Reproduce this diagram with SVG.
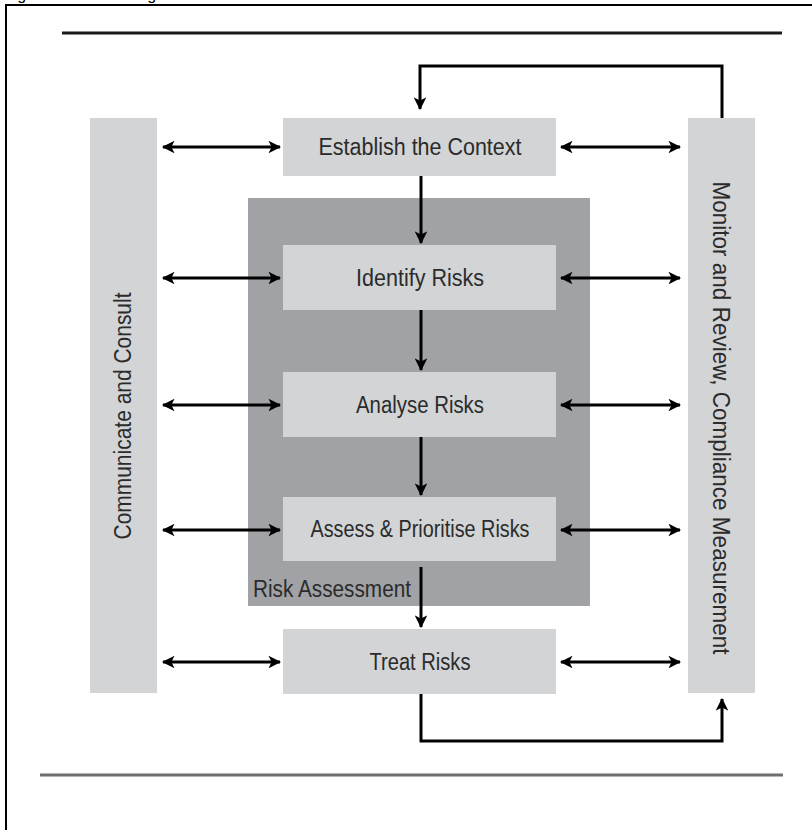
<svg xmlns="http://www.w3.org/2000/svg" width="812" height="830" viewBox="0 0 812 830">
<defs>
<style>
.box{fill:#d2d4d6}
.lbl{font-family:"Liberation Sans",Arial,sans-serif;font-size:23px;fill:#2b2b2b;text-anchor:middle;dominant-baseline:central}
.c{stroke:#000;stroke-width:3;fill:none}
</style>
<marker id="ah" viewBox="0 0 12 12" refX="11" refY="6" markerWidth="4.2" markerHeight="4.2" orient="auto-start-reverse" markerUnits="strokeWidth">
<path d="M0,0 L12,6 L0,12 L3,6 Z" fill="#000"/>
</marker>
</defs>
<rect width="812" height="830" fill="#fff"/>
<text x="4" y="0" style="font-family:'Liberation Sans',Arial,sans-serif;font-size:16px;fill:#000">Figure 1. Risk Management Process Framework</text>
<path d="M6,830 V5 H812" stroke="#000" stroke-width="2" fill="none"/>
<line x1="62" y1="33" x2="782" y2="33" stroke="#1a1a1a" stroke-width="3"/>
<line x1="40" y1="775" x2="783" y2="775" stroke="#6e6e6e" stroke-width="3"/>

<g id="risk-assessment">
<rect x="248" y="198" width="342" height="408" fill="#a0a2a5"/>
<text class="lbl" x="332" y="589" textLength="158" lengthAdjust="spacingAndGlyphs">Risk Assessment</text>
</g>
<g id="communicate">
<rect class="box" x="90" y="118" width="67" height="575"/>
<text class="lbl" transform="translate(123,416) rotate(-90)" textLength="247" lengthAdjust="spacingAndGlyphs">Communicate and Consult</text>
</g>
<g id="monitor">
<rect class="box" x="688" y="118" width="67" height="575"/>
<text class="lbl" transform="translate(721,418) rotate(90)" textLength="473" lengthAdjust="spacingAndGlyphs">Monitor and Review, Compliance Measurement</text>
</g>
<g id="establish">
<rect class="box" x="283" y="118" width="273" height="58"/>
<text class="lbl" x="420" y="147" textLength="203" lengthAdjust="spacingAndGlyphs">Establish the Context</text>
</g>
<g id="identify">
<rect class="box" x="283" y="245" width="273" height="65"/>
<text class="lbl" x="420" y="278" textLength="128" lengthAdjust="spacingAndGlyphs">Identify Risks</text>
</g>
<g id="analyse">
<rect class="box" x="283" y="372" width="273" height="65"/>
<text class="lbl" x="420" y="405" textLength="128" lengthAdjust="spacingAndGlyphs">Analyse Risks</text>
</g>
<g id="assess">
<rect class="box" x="283" y="497" width="273" height="64"/>
<text class="lbl" x="420" y="529" textLength="219" lengthAdjust="spacingAndGlyphs">Assess &amp; Prioritise Risks</text>
</g>
<g id="treat">
<rect class="box" x="283" y="629" width="273" height="65"/>
<text class="lbl" x="420" y="662" textLength="101" lengthAdjust="spacingAndGlyphs">Treat Risks</text>
</g>

<g id="connectors">
<line class="c" x1="421" y1="176" x2="421" y2="243" marker-end="url(#ah)"/>
<line class="c" x1="421" y1="310" x2="421" y2="370" marker-end="url(#ah)"/>
<line class="c" x1="421" y1="437" x2="421" y2="495" marker-end="url(#ah)"/>
<line class="c" x1="421" y1="567" x2="421" y2="627" marker-end="url(#ah)"/>
<line class="c" x1="163" y1="147" x2="280" y2="147" marker-start="url(#ah)" marker-end="url(#ah)"/>
<line class="c" x1="163" y1="278" x2="280" y2="278" marker-start="url(#ah)" marker-end="url(#ah)"/>
<line class="c" x1="163" y1="405" x2="280" y2="405" marker-start="url(#ah)" marker-end="url(#ah)"/>
<line class="c" x1="163" y1="530" x2="280" y2="530" marker-start="url(#ah)" marker-end="url(#ah)"/>
<line class="c" x1="163" y1="662" x2="280" y2="662" marker-start="url(#ah)" marker-end="url(#ah)"/>
<line class="c" x1="561" y1="147" x2="680" y2="147" marker-start="url(#ah)" marker-end="url(#ah)"/>
<line class="c" x1="561" y1="278" x2="680" y2="278" marker-start="url(#ah)" marker-end="url(#ah)"/>
<line class="c" x1="561" y1="405" x2="680" y2="405" marker-start="url(#ah)" marker-end="url(#ah)"/>
<line class="c" x1="561" y1="530" x2="680" y2="530" marker-start="url(#ah)" marker-end="url(#ah)"/>
<line class="c" x1="561" y1="662" x2="680" y2="662" marker-start="url(#ah)" marker-end="url(#ah)"/>
<polyline class="c" points="421,694 421,741 722,741 722,699" marker-end="url(#ah)"/>
<polyline class="c" points="722,118 722,66 420,66 420,109" marker-end="url(#ah)"/>
</g>
</svg>
